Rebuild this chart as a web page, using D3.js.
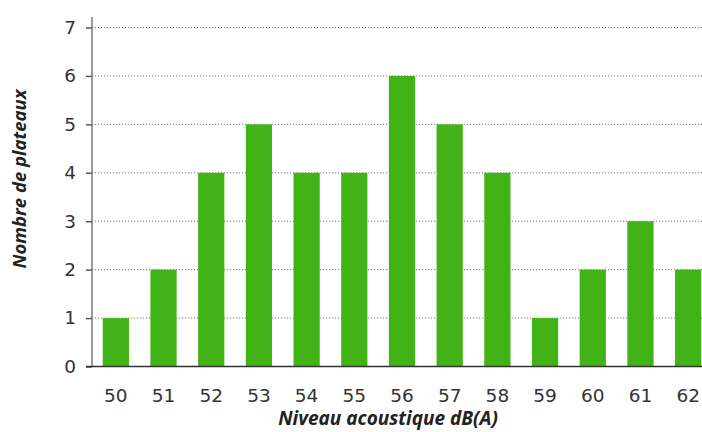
<!DOCTYPE html>
<html><head><meta charset="utf-8">
<script src="https://cdn.jsdelivr.net/npm/d3@7"></script>
<style>body{margin:0;background:#fff}svg{display:block}</style>
</head><body>
<script>
const categories = ["50","51","52","53","54","55","56","57","58","59","60","61","62"];
const values = [1,2,4,5,4,4,6,5,4,1,2,3,2];
const yTicks = [0,1,2,3,4,5,6,7];
const xTitle = "Niveau acoustique dB(A)";
const yTitle = "Nombre de plateaux";

const W = 702, H = 432;
const svg = d3.select("body").append("svg").attr("width", W).attr("height", H);
const x = d3.scaleBand().domain(categories).range([92, 712]).paddingInner(0.45).paddingOuter(0.225);
const y = d3.scaleLinear().domain([0, 7]).range([366.5, 27.5]);

// gridlines
svg.append("g").selectAll("line").data(yTicks.filter(d => d > 0)).join("line")
  .attr("x1", 92).attr("x2", W).attr("y1", d => y(d)).attr("y2", d => y(d))
  .attr("stroke", "#777").attr("stroke-width", 1).attr("stroke-dasharray", "1.2,1.8");

// bars
svg.append("g").selectAll("rect").data(values).join("rect")
  .attr("x", (d, i) => x(categories[i]))
  .attr("width", x.bandwidth())
  .attr("y", d => y(d))
  .attr("height", d => y(0) - y(d))
  .attr("fill", "#42b316");

// y axis
const yAxis = svg.append("g").attr("transform", "translate(92,0)")
  .call(d3.axisLeft(y).tickValues(yTicks).tickSize(6).tickPadding(10).tickFormat(d3.format("d")));
yAxis.select(".domain").remove();
yAxis.selectAll(".tick line").attr("stroke", "#555").attr("stroke-width", 1.5);
yAxis.selectAll("text").attr("font-family", "DejaVu Sans, sans-serif").attr("font-size", 18.5).attr("fill", "#333");
svg.append("line").attr("x1", 92).attr("x2", 92).attr("y1", 17).attr("y2", y(0))
  .attr("stroke", "#777").attr("stroke-width", 1.5);

// x axis
const xAxis = svg.append("g").attr("transform", `translate(0,${y(0)})`)
  .call(d3.axisBottom(x).tickSize(0).tickPadding(22));
xAxis.select(".domain").remove();
xAxis.selectAll("text").attr("font-family", "DejaVu Sans, sans-serif").attr("font-size", 18.5).attr("fill", "#333");
svg.append("line").attr("x1", 86).attr("x2", W).attr("y1", y(0)).attr("y2", y(0))
  .attr("stroke", "#333").attr("stroke-width", 1.5);

// titles
svg.append("text").attr("x", 388).attr("y", 425).attr("text-anchor", "middle")
  .attr("font-family", "Open Sans, sans-serif").attr("font-weight", "bold").attr("font-style", "italic")
  .attr("font-size", 19).attr("fill", "#222").text(xTitle);
svg.append("text").attr("transform", "translate(26,179) rotate(-90)").attr("text-anchor", "middle")
  .attr("font-family", "Open Sans, sans-serif").attr("font-weight", "bold").attr("font-style", "italic")
  .attr("font-size", 18.5).attr("fill", "#222").text(yTitle);
</script>
</body></html>
